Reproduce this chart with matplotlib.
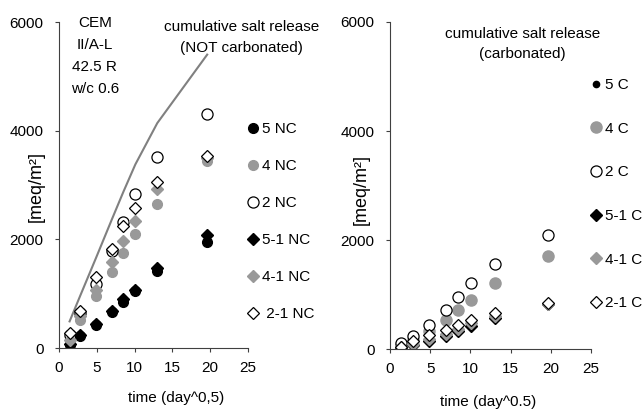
import numpy as np
import matplotlib
matplotlib.use("Agg")
import matplotlib.pyplot as plt

plt.rcParams['font.family'] = ['Liberation Sans', 'DejaVu Sans']
plt.rcParams['font.size'] = 11

# sqrt(time) sampling points
t = [1.4, 2.8, 4.9, 7.0, 8.5, 10.1, 13.0, 19.6]

# not carbonated
nc_5 = [62, 215, 418, 657, 841, 1056, 1411, 1950]
nc_4 = [184, 522, 964, 1393, 1748, 2105, 2660, 3435]
nc_2 = [245, 644, 1178, 1779, 2318, 2834, 3514, 4305]
nc_51 = [80, 240, 440, 687, 902, 1074, 1466, 2086]
nc_41 = [150, 583, 1074, 1577, 1963, 2331, 2926, 3496]
nc_21 = [276, 688, 1306, 1822, 2239, 2576, 3049, 3540]
total_nc = [490, 960, 1660, 2370, 2870, 3380, 4140, 5400]

# carbonated
c_5 = [20, 80, 150, 230, 322, 414, 567, 820]
c_4 = [70, 160, 322, 524, 708, 892, 1211, 1714]
c_2 = [107, 230, 432, 721, 953, 1211, 1567, 2101]
c_51 = [20, 80, 150, 230, 322, 414, 567, 820]
c_41 = [30, 100, 190, 280, 370, 470, 610, 830]
c_21 = [46, 138, 248, 353, 432, 537, 659, 843]

grey = '#999999'

fig = plt.figure(figsize=(6.42, 4.15), dpi=100)
ax1 = fig.add_axes([0.0919, 0.1614, 0.2944, 0.7855])
ax2 = fig.add_axes([0.6075, 0.1590, 0.3131, 0.7880])

ms = 7
ax1.plot(t, total_nc, color='#808080', lw=1.5, zorder=1)
ax1.plot(t, nc_5, 'o', color='black', ms=ms, label='5 NC')
ax1.plot(t, nc_4, 'o', color=grey, ms=ms, label='4 NC')
ax1.plot(t, nc_2, 'o', mfc='white', mec='black', mew=0.9, ms=ms + 1, label='2 NC')
ax1.plot(t, nc_51, 'D', color='black', ms=ms - 1, label='5-1 NC')
ax1.plot(t, nc_41, 'D', color=grey, ms=ms - 1, label='4-1 NC')
ax1.plot(t, nc_21, 'D', mfc='white', mec='black', mew=0.9, ms=ms - 1, label=' 2-1 NC')

ax2.plot(t, c_5, 'o', color='black', ms=4.5, label='5 C')
ax2.plot(t, c_4, 'o', color=grey, ms=ms + 1, label='4 C')
ax2.plot(t, c_2, 'o', mfc='white', mec='black', mew=0.9, ms=ms + 1, label='2 C')
ax2.plot(t, c_51, 'D', color='black', ms=ms - 1, label='5-1 C')
ax2.plot(t, c_41, 'D', color=grey, ms=ms - 1, label='4-1 C')
ax2.plot(t, c_21, 'D', mfc='white', mec='black', mew=0.9, ms=ms - 1, label='2-1 C')

for ax in (ax1, ax2):
    ax.set_xlim(0, 25)
    ax.set_ylim(0, 6000)
    ax.set_xticks([0, 5, 10, 15, 20, 25])
    ax.set_yticks([0, 2000, 4000, 6000])
    ax.spines['top'].set_visible(False)
    ax.spines['right'].set_visible(False)
    ax.spines['left'].set_color('#404040')
    ax.spines['bottom'].set_color('#404040')
    ax.tick_params(direction='out', length=3, width=0.8, color='#404040')
    ax.tick_params(axis='x', pad=6)
    ax.tick_params(axis='y', pad=8)
    ax.set_ylabel('[meq/m²]', fontsize=13)

ax1.set_xlabel('time (day^0,5)')
ax2.set_xlabel('time (day^0.5)')
ax1.xaxis.set_label_coords(0.619, -0.132)
ax2.xaxis.set_label_coords(0.488, -0.141)
ax1.yaxis.set_label_coords(-0.074, 0.494)
ax2.yaxis.set_label_coords(-0.10, 0.488)

ax1.text(0.19, 1.02, 'CEM\nII/A-L\n42.5 R\nw/c 0.6', transform=ax1.transAxes,
         ha='center', va='top', multialignment='center', linespacing=1.73)
ax1.text(0.967, 1.005, 'cumulative salt release\n(NOT carbonated)', transform=ax1.transAxes,
         ha='center', va='top', multialignment='center', linespacing=1.64)
ax2.text(0.66, 0.985, 'cumulative salt release\n(carbonated)', transform=ax2.transAxes,
         ha='center', va='top', multialignment='center', linespacing=1.59)

ax1.legend(loc='upper left', bbox_to_anchor=(247 / 642, 1 - 122 / 415),
           bbox_transform=fig.transFigure, frameon=False, borderpad=0,
           borderaxespad=0, handlelength=0.8, handletextpad=0.2,
           labelspacing=1.51, numpoints=1)
ax2.legend(loc='upper left', bbox_to_anchor=(589.6 / 642, 1 - 78 / 415),
           bbox_transform=fig.transFigure, frameon=False, borderpad=0,
           borderaxespad=0, handlelength=0.8, handletextpad=0.2,
           labelspacing=1.94, numpoints=1)

fig.savefig('out.png', dpi=100)
